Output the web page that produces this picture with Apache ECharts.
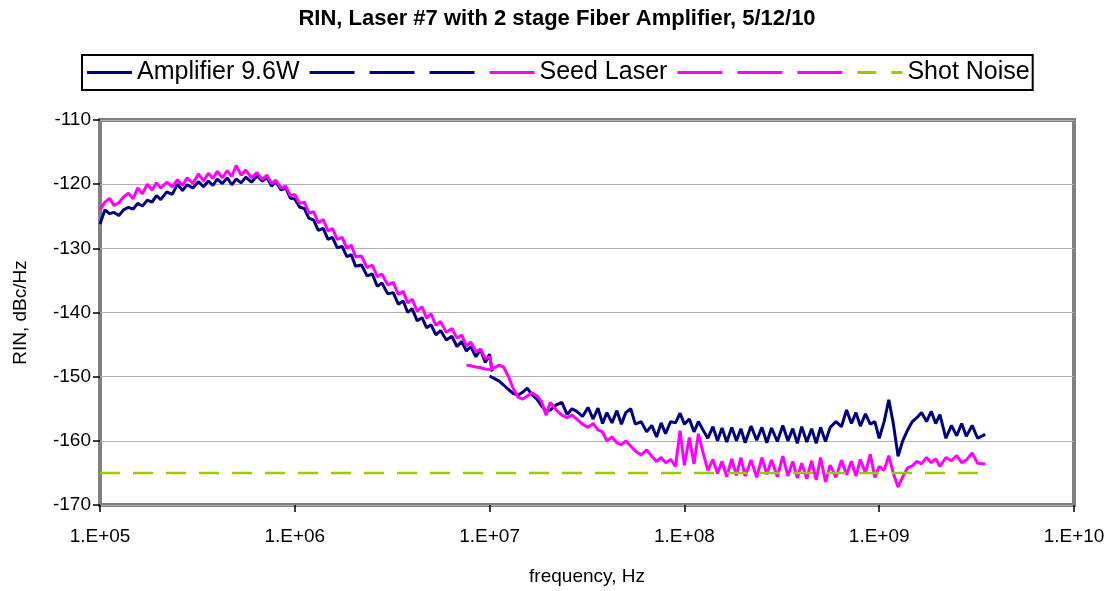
<!DOCTYPE html>
<html>
<head>
<meta charset="utf-8">
<script src="https://cdn.jsdelivr.net/npm/echarts@6/dist/echarts.min.js"></script>
<style>
    html, body { margin: 0; padding: 0; background: #fff; }
    #rin_chart { width: 1114px; height: 591px; }
</style>
</head>
<body>
<div id="rin_chart"></div>
<script>
// RIN of laser #7 with the 2 stage fiber amplifier

// low band sweep, 100 kHz .. 10 MHz
const lowFreq = [
    1.00e5, 1.06e5, 1.12e5, 1.18e5, 1.25e5, 1.32e5, 1.40e5, 1.48e5, 1.56e5, 1.65e5,
    1.75e5, 1.85e5, 1.95e5, 2.05e5, 2.20e5, 2.35e5, 2.50e5, 2.65e5, 2.80e5, 3.00e5,
    3.20e5, 3.40e5, 3.60e5, 3.80e5, 4.00e5, 4.25e5, 4.50e5, 4.75e5, 5.00e5, 5.30e5,
    5.60e5, 6.00e5, 6.40e5, 6.80e5, 7.20e5, 7.60e5, 8.00e5, 8.50e5, 9.00e5, 9.50e5,
    1.00e6, 1.06e6, 1.12e6, 1.18e6, 1.25e6, 1.32e6, 1.40e6, 1.48e6, 1.56e6, 1.65e6,
    1.75e6, 1.85e6, 1.95e6, 2.05e6, 2.20e6, 2.35e6, 2.50e6, 2.65e6, 2.80e6, 3.00e6,
    3.20e6, 3.40e6, 3.60e6, 3.80e6, 4.00e6, 4.25e6, 4.50e6, 4.75e6, 5.00e6, 5.30e6,
    5.60e6, 6.00e6, 6.40e6, 6.80e6, 7.20e6, 7.60e6, 8.00e6, 8.50e6, 9.00e6, 9.50e6,
    1.00e7, 1.03e7
];
const ampLow = [
    -126.2, -124.0, -124.6, -124.4, -124.9, -124.0, -123.6, -123.9, -123.0, -123.4,
    -122.5, -122.8, -121.8, -122.4, -121.2, -121.6, -120.0, -121.0, -120.1, -120.6,
    -119.6, -120.4, -119.5, -120.2, -119.2, -119.9, -119.0, -120.1, -119.2, -119.8,
    -118.9, -119.7, -118.7, -119.5, -119.0, -120.3, -119.6, -120.9, -120.6, -122.2,
    -122.3, -123.6, -123.8, -125.3, -125.6, -127.2, -126.9, -128.6, -128.3, -129.9,
    -129.7, -131.3, -131.0, -132.8, -132.6, -134.3, -134.0, -135.9, -135.4, -137.1,
    -136.9, -138.7, -138.2, -140.0, -139.4, -141.3, -140.8, -142.4, -141.9, -143.5,
    -142.8, -144.3, -143.7, -145.3, -144.5, -146.0, -145.3, -146.9, -145.8, -147.8,
    -146.5, -149.2
];
const seedLow = [
    -124.0, -122.8, -122.2, -123.3, -122.9, -122.0, -121.4, -122.3, -120.6, -121.5,
    -120.0, -120.9, -119.8, -120.6, -119.7, -120.4, -119.3, -120.2, -119.0, -119.9,
    -118.4, -119.5, -118.3, -119.1, -118.0, -119.0, -117.9, -118.8, -117.1, -118.6,
    -117.8, -119.0, -118.2, -119.3, -118.6, -119.9, -119.4, -120.6, -120.3, -121.8,
    -121.6, -123.0, -122.8, -124.5, -124.3, -126.0, -125.5, -127.3, -126.9, -128.6,
    -128.3, -130.0, -129.5, -131.3, -131.2, -133.0, -132.6, -134.4, -134.0, -135.7,
    -135.3, -137.2, -136.7, -138.5, -137.9, -139.8, -139.1, -140.9, -140.2, -142.0,
    -141.4, -143.1, -142.5, -144.0, -143.5, -145.2, -144.6, -146.1, -145.7, -147.2,
    -146.9, -148.7
];

// high band sweep, 10 MHz .. 3.5 GHz
const highFreq = [
    1.00e7, 1.06e7, 1.12e7, 1.18e7, 1.25e7, 1.32e7, 1.40e7, 1.48e7, 1.56e7, 1.65e7,
    1.75e7, 1.85e7, 1.95e7, 2.05e7, 2.20e7, 2.35e7, 2.50e7, 2.65e7, 2.80e7, 3.00e7,
    3.20e7, 3.40e7, 3.60e7, 3.80e7, 4.00e7, 4.25e7, 4.50e7, 4.75e7, 5.00e7, 5.30e7,
    5.60e7, 6.00e7, 6.40e7, 6.80e7, 7.20e7, 7.60e7, 8.00e7, 8.50e7, 9.00e7, 9.50e7,
    1.00e8, 1.06e8, 1.12e8, 1.18e8, 1.25e8, 1.32e8, 1.40e8, 1.48e8, 1.56e8, 1.65e8,
    1.75e8, 1.85e8, 1.95e8, 2.05e8, 2.20e8, 2.35e8, 2.50e8, 2.65e8, 2.80e8, 3.00e8,
    3.20e8, 3.40e8, 3.60e8, 3.80e8, 4.00e8, 4.25e8, 4.50e8, 4.75e8, 5.00e8, 5.30e8,
    5.60e8, 6.00e8, 6.40e8, 6.80e8, 7.20e8, 7.60e8, 8.00e8, 8.50e8, 9.00e8, 9.50e8,
    1.00e9, 1.06e9, 1.12e9, 1.18e9, 1.25e9, 1.32e9, 1.40e9, 1.48e9, 1.56e9, 1.65e9,
    1.75e9, 1.85e9, 1.95e9, 2.05e9, 2.20e9, 2.35e9, 2.50e9, 2.65e9, 2.80e9, 3.00e9,
    3.20e9, 3.50e9
];
const ampHigh = [
    -149.9, -150.3, -150.7, -151.3, -152.0, -152.6, -152.9, -152.4, -151.8, -152.8,
    -153.5, -154.6, -155.3, -155.2, -154.4, -154.0, -155.9, -155.0, -155.4, -156.2,
    -154.8, -156.6, -154.9, -157.3, -155.6, -157.2, -155.3, -157.4, -155.6, -155.0,
    -157.4, -157.0, -158.6, -157.6, -159.4, -157.2, -158.9, -157.0, -157.2, -155.7,
    -157.4, -156.6, -158.6, -157.0, -158.4, -159.6, -157.8, -160.0, -158.0, -160.2,
    -157.9, -160.0, -158.1, -160.3, -157.7, -159.9, -157.9, -160.3, -158.0, -160.1,
    -157.6, -160.0, -158.1, -160.4, -157.8, -160.2, -158.1, -160.4, -157.9, -160.1,
    -157.9, -157.0, -157.8, -155.2, -157.3, -155.6, -157.7, -155.8, -157.4, -157.0,
    -159.6, -157.0, -153.6, -157.2, -162.4, -160.0, -158.3, -157.0, -156.4, -155.6,
    -157.0, -155.4, -157.3, -155.9, -159.6, -157.6, -159.2, -157.3, -159.3, -157.6,
    -159.6, -159.0
];
// seed high band starts a little below 10 MHz
const seedLeadFreq = [7.60e6, 8.00e6, 8.50e6, 9.00e6, 9.50e6];
const seedLead = [-148.2, -148.3, -148.5, -148.6, -148.8];
const seedHigh = [
    -148.9, -148.6, -148.2, -148.5, -150.0, -151.8, -153.2, -153.5, -153.0, -152.5,
    -153.0, -153.9, -156.0, -154.0, -155.2, -156.0, -156.4, -156.0, -156.6, -157.4,
    -157.9, -157.3, -158.3, -158.6, -160.0, -159.4, -160.3, -160.6, -160.0, -160.8,
    -161.6, -162.2, -161.4, -162.4, -163.2, -162.6, -163.4, -162.9, -164.0, -158.4,
    -163.8, -159.5, -163.6, -158.9, -162.0, -164.6, -162.9, -165.1, -163.2, -165.6,
    -162.8, -165.4, -162.6, -165.5, -163.0, -165.7, -162.6, -165.2, -163.0, -165.6,
    -162.4, -165.5, -163.2, -165.8, -163.5, -165.9, -163.1, -166.1, -162.6, -166.4,
    -163.8, -165.7, -163.0, -165.3, -163.2, -165.5, -162.9, -165.0, -162.1, -165.7,
    -164.0, -164.6, -162.3, -165.0, -167.2, -165.6, -164.2, -163.9, -163.2, -163.6,
    -162.6, -163.4, -162.8, -164.0, -162.6, -163.1, -162.3, -163.4, -163.0, -161.9,
    -163.5, -163.6
];
const shotFreq = [1.0e5, 3.5e9];
const shotNoise = [-165, -165];

const xTickLabels = { 5: '1.E+05', 6: '1.E+06', 7: '1.E+07', 8: '1.E+08', 9: '1.E+09', 10: '1.E+10' };

const FONT = '"Liberation Sans", Arial, Helvetica, sans-serif';
const NAVY = '#000080';
const PINK = '#ff00ff';
const GREEN = '#99cc00';

// legend entries; the fit traces have no visible text
const legendText = {
    'Amplifier 9.6W': 'Amplifier 9.6W',
    'ampFitA': '', 'ampFitB': '', 'ampFitC': '',
    'Seed Laser': 'Seed Laser',
    'seedFitA': '', 'seedFitB': '', 'seedFitC': '',
    'Shot Noise': 'Shot Noise'
};

function pairs(xs, ys) {
    return xs.map((x, i) => [x, ys[i]]);
}

function trace(name, color, data, extra) {
    return Object.assign({
        name: name,
        type: 'line',
        data: data,
        symbol: 'none',
        color: color,
        lineStyle: { color: color, width: 3 },
        silent: true
    }, extra || {});
}

// legend icons: a flat bar, and two dashes for the shot noise line
const legendData = Object.keys(legendText).map(function (n) {
    return {
        name: n,
        icon: n === 'Shot Noise' ? 'path://M0,0h19v3h-19zM34,0h11v3h-11z' : 'rect'
    };
});

let rinChart = echarts.init(document.getElementById('rin_chart'));

const option = {
    animation: false,
    backgroundColor: '#fff',
    title: {
        text: 'RIN, Laser #7 with 2 stage Fiber Amplifier, 5/12/10',
        left: 'center',
        top: 3,
        textStyle: { fontFamily: FONT, fontSize: 22, fontWeight: 'bold', color: '#000' }
    },
    legend: {
        left: 82,
        top: 55,
        padding: [4, 3, 4, 5],
        borderColor: '#000',
        borderWidth: 2,
        itemWidth: 45,
        itemHeight: 3,
        itemGap: 10,
        selectedMode: false,
        data: legendData,
        formatter: function (n) { return legendText[n]; },
        textStyle: { fontFamily: FONT, fontSize: 25, color: '#000', lineHeight: 27 }
    },
    grid: {
        left: 100,
        right: 40,
        top: 120,
        bottom: 83,
        show: true,
        borderColor: '#808080',
        borderWidth: 4
    },
    xAxis: {
        type: 'log',
        logBase: 10,
        min: 1e5,
        max: 1e10,
        axisLine: { show: false },
        axisTick: { show: true, length: 7, lineStyle: { color: '#000', width: 1.5 } },
        minorTick: { show: false },
        splitLine: { show: false },
        axisLabel: {
            fontFamily: FONT, fontSize: 19, color: '#000', margin: 22,
            formatter: function (v) { return xTickLabels[Math.round(Math.log10(v))] || ''; }
        },
        name: 'frequency, Hz',
        nameLocation: 'middle',
        nameGap: 62,
        nameTextStyle: { fontFamily: FONT, fontSize: 19, color: '#000' }
    },
    yAxis: {
        type: 'value',
        min: -170,
        max: -110,
        interval: 10,
        axisLine: { show: false },
        axisTick: { show: true, length: 7, lineStyle: { color: '#000', width: 1.5 } },
        splitLine: { show: true, lineStyle: { color: '#b0b0b0', width: 1 } },
        axisLabel: { fontFamily: FONT, fontSize: 19, color: '#000', margin: 9 },
        name: 'RIN, dBc/Hz',
        nameLocation: 'middle',
        nameGap: 70,
        nameTextStyle: { fontFamily: FONT, fontSize: 19, color: '#000' }
    },
    series: [
        trace('Amplifier 9.6W', NAVY, pairs(lowFreq, ampLow)),
        trace('Amplifier 9.6W', NAVY, pairs(highFreq, ampHigh)),
        trace('ampFitA', NAVY, []),
        trace('ampFitB', NAVY, []),
        trace('ampFitC', NAVY, []),
        trace('Seed Laser', PINK, pairs(lowFreq, seedLow)),
        trace('Seed Laser', PINK, pairs(seedLeadFreq.concat(highFreq), seedLead.concat(seedHigh))),
        trace('seedFitA', PINK, []),
        trace('seedFitB', PINK, []),
        trace('seedFitC', PINK, []),
        trace('Shot Noise', GREEN, pairs(shotFreq, shotNoise), { lineStyle: { color: GREEN, width: 2.5, type: [20, 13] } })
    ]
};

rinChart.setOption(option);

window.addEventListener('resize', function () {
    rinChart.resize();
});
</script>
</body>
</html>
